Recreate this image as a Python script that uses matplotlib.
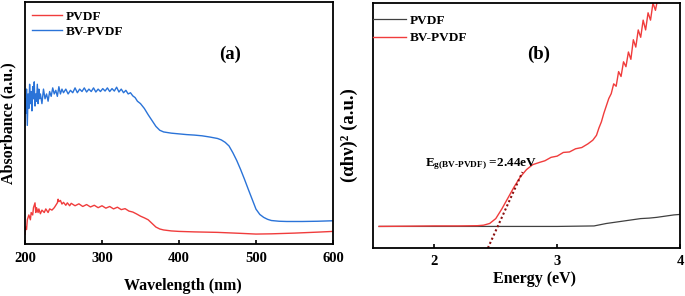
import matplotlib
matplotlib.use("Agg")
import matplotlib.pyplot as plt

plt.rcParams['font.family'] = ['Liberation Serif', 'DejaVu Serif']
plt.rcParams['font.weight'] = 'bold'
plt.rcParams['mathtext.fontset'] = 'custom'
plt.rcParams['mathtext.rm'] = 'Liberation Serif:bold'
plt.rcParams['mathtext.it'] = 'Liberation Serif:bold'
plt.rcParams['mathtext.bf'] = 'Liberation Serif:bold'

# ---- panel (a) data: wavelength (nm) vs absorbance (a.u.) ----
bv_wl = [200, 201, 202, 203, 204, 205, 206, 207, 208, 209, 210, 211, 212, 213, 214, 215, 216,
         217, 218, 219, 220, 222, 224, 226, 228, 230, 232, 234, 236, 238, 240, 242, 244, 246,
         248, 250, 253, 256, 259, 262, 265, 268, 271, 274, 277, 280, 283, 286, 289, 292, 295,
         298, 301, 304, 307, 310, 313, 316, 319, 322, 325, 328, 331, 334, 337, 340, 343, 346,
         350, 355, 360, 365, 370, 375, 380, 390, 400, 410, 420, 430, 440, 450, 455, 460, 465,
         470, 475, 480, 485, 490, 495, 500, 505, 510, 515, 520, 530, 540, 560, 580, 600]
bv_abs = [0.60, 0.54, 0.64, 0.49, 0.62, 0.56, 0.66, 0.58, 0.63, 0.55, 0.65, 0.60, 0.67, 0.57,
          0.62, 0.59, 0.66, 0.58, 0.64, 0.60, 0.62, 0.58, 0.64, 0.60, 0.62, 0.59, 0.63, 0.61,
          0.645, 0.62, 0.635, 0.61, 0.65, 0.62, 0.64, 0.625, 0.64, 0.62, 0.635, 0.625, 0.645,
          0.625, 0.64, 0.63, 0.645, 0.628, 0.64, 0.63, 0.645, 0.628, 0.64, 0.63, 0.642, 0.632,
          0.645, 0.63, 0.642, 0.632, 0.648, 0.628, 0.64, 0.625, 0.635, 0.62, 0.625, 0.612,
          0.605, 0.59, 0.58, 0.56, 0.534, 0.51, 0.486, 0.47, 0.463, 0.458, 0.455, 0.452, 0.45,
          0.447, 0.442, 0.436, 0.43, 0.42, 0.405, 0.377, 0.345, 0.308, 0.268, 0.226, 0.185,
          0.144, 0.122, 0.11, 0.102, 0.097, 0.094, 0.093, 0.093, 0.094, 0.096]

pv_wl = [200, 201, 202, 203, 205, 207, 208, 210, 211, 213, 214, 215, 217, 218, 220, 222, 225,
         227, 230, 232, 235, 238, 240, 242, 243, 244, 246, 248, 250, 253, 255, 258, 260, 265,
         270, 275, 280, 285, 290, 295, 300, 305, 310, 315, 320, 325, 330, 335, 340, 345, 350,
         355, 360, 365, 370, 375, 380, 390, 400, 420, 450, 480, 500, 520, 550, 580, 600]
pv_abs = [0.04, 0.07, 0.06, 0.10, 0.12, 0.10, 0.13, 0.12, 0.15, 0.17, 0.13, 0.15, 0.13, 0.145,
          0.125, 0.14, 0.13, 0.145, 0.13, 0.145, 0.14, 0.15, 0.16, 0.17, 0.185, 0.175, 0.18,
          0.165, 0.172, 0.16, 0.17, 0.158, 0.168, 0.158, 0.166, 0.155, 0.163, 0.153, 0.16, 0.15,
          0.158, 0.148, 0.155, 0.145, 0.152, 0.142, 0.146, 0.136, 0.132, 0.124, 0.115, 0.108,
          0.10, 0.085, 0.07, 0.062, 0.058, 0.054, 0.052, 0.05, 0.048, 0.044, 0.041, 0.042,
          0.045, 0.049, 0.052]

# ---- panel (b) data: energy (eV) vs (alpha h nu)^2 ----
bvb_e = [1.55, 1.8, 2.0, 2.2, 2.35, 2.40, 2.45, 2.50, 2.55, 2.60, 2.65, 2.70, 2.75, 2.80, 2.86,
         2.90, 2.95, 3.00, 3.05, 3.10, 3.15, 3.20, 3.25, 3.29, 3.32, 3.34, 3.36, 3.38, 3.40,
         3.42, 3.44, 3.46, 3.48, 3.50, 3.52, 3.54, 3.56, 3.58, 3.60, 3.62, 3.64, 3.66, 3.68,
         3.70, 3.72, 3.74, 3.76, 3.78, 3.80, 3.82, 3.84, 3.86, 3.90]
bvb_y = [0.088, 0.089, 0.09, 0.09, 0.091, 0.093, 0.10, 0.12, 0.16, 0.205, 0.25, 0.29, 0.32,
         0.34, 0.35, 0.356, 0.37, 0.375, 0.39, 0.392, 0.405, 0.41, 0.425, 0.44, 0.46, 0.49,
         0.515, 0.55, 0.58, 0.61, 0.63, 0.67, 0.66, 0.72, 0.70, 0.76, 0.74, 0.80, 0.77, 0.85,
         0.82, 0.89, 0.86, 0.93, 0.89, 0.96, 0.93, 1.0, 0.97, 1.02, 1.0, 1.05, 1.1]

pvb_e = [1.55, 2.0, 2.5, 3.0, 3.3, 3.35, 3.40, 3.47, 3.54, 3.61, 3.68, 3.75, 3.81, 3.88, 3.95, 4.0]
pvb_y = [0.088, 0.088, 0.088, 0.088, 0.09, 0.095, 0.10, 0.105, 0.11, 0.115, 0.12, 0.122,
         0.125, 0.13, 0.135, 0.137]

tangent_e = [2.436, 2.717]
tangent_y = [0.0, 0.31]

fig = plt.figure(figsize=(6.85, 2.96), dpi=100)

red = '#f03c3c'
blue = '#2a73d8'

# ---- (a) ----
ax1 = fig.add_axes([0.0365, 0.1757, 0.4496, 0.8176])
ax1.plot(pv_wl, pv_abs, color=red, lw=1.0, label='PVDF')
ax1.plot(bv_wl, bv_abs, color=blue, lw=1.0, label='BV-PVDF')
ax1.set_xlim(200, 600)
ax1.set_ylim(0, 1)
ax1.set_xticks([200, 300, 400, 500, 600])
ax1.set_yticks([])
ax1.tick_params(axis='x', direction='in', length=3, width=1.2, labelsize=10.5, pad=6)
for lbl in ax1.get_xticklabels():
    lbl.set_fontweight('bold')
ax1.set_xlabel('Wavelength (nm)', fontsize=11.5, fontweight='bold')
ax1.xaxis.set_label_coords(0.513, -0.14)
ax1.set_ylabel('Absorbance (a.u.)', fontsize=11.5, fontweight='bold', labelpad=6)
for sp in ax1.spines.values():
    sp.set_linewidth(1.3)
ax1.legend(loc='upper left', bbox_to_anchor=(0.023, 0.965), frameon=False,
           handlelength=2.3, borderpad=0, borderaxespad=0, labelspacing=0.2,
           handletextpad=0.25, prop={'weight': 'bold', 'size': 9.5})
ax1.text(0.665, 0.785, '(a)', transform=ax1.transAxes, fontsize=13.5, fontweight='bold',
         ha='center', va='center')

# ---- (b) ----
ax2 = fig.add_axes([0.5445, 0.1622, 0.4482, 0.8277])
ax2.plot(pvb_e, pvb_y, color='#404040', lw=0.9, label='PVDF')
ax2.plot(bvb_e, bvb_y, color=red, lw=1.0, label='BV-PVDF')
ax2.plot(tangent_e, tangent_y, color='#8b1010', lw=1.5, ls=(0, (1, 1.2)))
ax2.set_xlim(1.5, 4.0)
ax2.set_ylim(0, 1)
ax2.set_xticks([2, 3, 4])
ax2.set_yticks([])
ax2.tick_params(axis='x', direction='in', length=3, width=1.2, labelsize=10.5, pad=5)
for lbl in ax2.get_xticklabels():
    lbl.set_fontweight('bold')
ax2.set_xlabel('Energy (eV)', fontsize=11.5, fontweight='bold')
ax2.xaxis.set_label_coords(0.525, -0.095)
ax2.set_ylabel('(αhν)² (a.u.)', fontsize=13.5, fontweight='bold')
ax2.yaxis.set_label_coords(-0.05, 0.46)
for sp in ax2.spines.values():
    sp.set_linewidth(1.3)
ax2.legend(loc='upper left', bbox_to_anchor=(0.0, 0.953), frameon=False,
           handlelength=2.5, borderpad=0, borderaxespad=0, labelspacing=0.4,
           handletextpad=0.25, prop={'weight': 'bold', 'size': 9.5})
ax2.text(0.54, 0.79, '(b)', transform=ax2.transAxes, fontsize=13.5, fontweight='bold',
         ha='center', va='center')
ax2.text(1.92, 0.335, r'$E_{g(BV\text{-}PVDF)}$ =2.44eV', fontsize=9.5, fontweight='bold',
         ha='left', va='baseline')

fig.savefig('out.png', dpi=100)
